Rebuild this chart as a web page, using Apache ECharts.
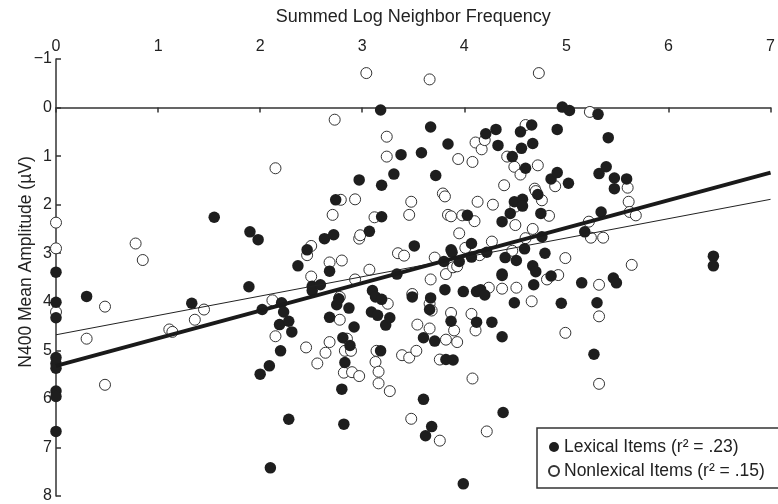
<!DOCTYPE html>
<html>
<head>
<meta charset="utf-8">
<script src="https://cdn.jsdelivr.net/npm/echarts@6/dist/echarts.min.js"></script>
<style>
  html, body { margin: 0; padding: 0; background: #fff; }
  #chart { width: 778px; height: 504px; }
</style>
</head>
<body>
<div id="chart"></div>
<script>
// filled circles: [summed log neighbor frequency, N400 amplitude]
var lexicalItems = [
  [0,3.39],[0,4.01],[0,4.33],[0,5.15],[0,5.27],[0,5.37],[0,5.84],[0,5.95],[0,6.67],
  [0.30,3.89],[1.33,4.03],[1.55,2.26],[1.89,3.69],[1.90,2.56],[1.98,2.72],[2.00,5.49],[2.02,4.16],[2.09,5.32],[2.10,7.42],
  [2.19,4.47],[2.20,5.01],[2.21,4.02],[2.23,4.21],[2.28,4.40],[2.28,6.42],[2.31,4.62],[2.37,3.26],[2.46,2.93],
  [2.51,3.68],[2.51,3.77],[2.59,3.65],[2.63,2.70],[2.68,3.37],[2.68,4.32],[2.72,2.62],[2.74,1.90],[2.75,4.06],[2.77,3.94],
  [2.80,5.80],[2.81,4.74],[2.82,6.52],[2.83,5.25],[2.87,4.13],[2.88,4.90],[2.92,4.52],[2.97,1.49],
  [3.07,2.55],[3.09,4.21],[3.10,3.77],[3.13,3.90],[3.15,4.28],[3.18,0.05],[3.18,5.01],[3.19,1.60],[3.19,2.25],[3.19,3.95],
  [3.23,4.48],[3.27,4.33],[3.31,1.37],[3.34,3.43],[3.38,0.97],[3.49,3.90],[3.51,2.85],[3.58,0.93],[3.60,4.74],[3.60,6.01],
  [3.62,6.76],[3.66,4.16],[3.67,0.40],[3.67,3.92],[3.68,6.57],[3.71,4.81],[3.72,1.40],[3.80,3.17],[3.81,3.75],[3.82,5.19],
  [3.84,0.75],[3.87,2.93],[3.88,2.98],[3.87,4.40],[3.89,5.20],[3.95,3.17],[3.99,3.79],[3.99,7.75],[4.03,2.22],[4.07,2.80],
  [4.07,3.08],[4.12,3.79],[4.16,3.75],[4.12,4.42],[4.20,3.86],[4.21,0.54],[4.22,2.98],[4.27,4.42],[4.31,0.45],[4.33,0.78],[4.37,2.35],
  [4.37,3.43],[4.37,3.46],[4.37,4.72],[4.38,6.28],[4.40,3.09],[4.45,2.18],[4.47,1.01],[4.49,1.94],[4.49,4.02],[4.51,3.15],
  [4.55,0.50],[4.56,0.84],[4.57,1.89],[4.57,2.03],[4.59,2.91],[4.60,1.25],[4.66,0.36],[4.67,0.74],[4.67,3.26],[4.68,3.65],
  [4.70,3.38],[4.72,1.79],[4.75,2.18],[4.76,2.66],[4.79,3.00],[4.85,1.47],[4.85,3.47],[4.91,0.45],[4.91,1.34],[4.95,4.03],
  [4.96,-0.01],[5.02,1.56],[5.03,0.06],[5.15,3.61],[5.18,2.56],[5.27,5.08],[5.30,4.02],[5.31,0.14],[5.32,1.36],[5.34,2.15],
  [5.39,1.22],[5.41,0.62],[5.46,3.51],[5.47,1.45],[5.47,1.67],[5.49,3.61],[5.59,1.47],[6.44,3.06],[6.44,3.26]
];

// open circles
var nonlexicalItems = [
  [0,2.37],[0,2.90],[0,4.21],[0.30,4.76],[0.48,4.10],[0.48,5.71],[0.78,2.80],[0.85,3.14],[1.11,4.57],[1.14,4.62],[1.36,4.37],[1.45,4.16],
  [2.12,3.97],[2.15,1.25],[2.15,4.71],[2.45,4.94],[2.46,3.04],[2.50,2.85],[2.50,3.48],[2.56,5.27],[2.64,5.05],[2.68,3.19],[2.68,4.83],
  [2.71,2.21],[2.73,0.25],[2.78,3.90],[2.78,4.37],[2.79,1.90],[2.80,3.15],[2.82,5.46],[2.83,5.01],[2.85,4.76],[2.89,5.01],[2.90,5.45],
  [2.93,1.89],[2.93,3.54],[2.97,2.70],[2.97,5.53],[2.98,2.63],[3.04,-0.71],[3.07,3.34],[3.12,2.26],[3.13,5.24],[3.14,5.01],[3.16,5.44],
  [3.16,5.68],[3.24,0.60],[3.24,1.01],[3.25,4.04],[3.27,5.84],[3.35,3.00],[3.39,5.10],[3.41,3.05],[3.46,2.21],[3.46,5.15],[3.48,1.94],
  [3.48,6.41],[3.49,3.84],[3.53,5.01],[3.54,4.47],[3.66,-0.58],[3.66,4.04],[3.66,4.55],[3.67,3.54],[3.68,4.18],[3.71,3.09],[3.76,5.19],
  [3.76,6.86],[3.79,1.77],[3.81,1.83],[3.82,3.43],[3.82,4.78],[3.84,2.21],[3.87,2.24],[3.87,4.23],[3.89,3.29],[3.90,4.59],[3.93,4.83],
  [3.93,3.27],[3.94,1.06],[3.95,2.59],[3.98,2.22],[4.01,2.89],[4.07,4.25],[4.08,1.12],[4.08,5.58],[4.10,2.34],[4.11,0.72],[4.11,4.59],
  [4.13,1.94],[4.15,3.04],[4.17,0.86],[4.20,0.67],[4.22,6.67],[4.24,3.71],[4.27,2.76],[4.28,2.00],[4.37,3.73],[4.39,1.60],[4.42,1.01],
  [4.47,2.95],[4.49,1.22],[4.50,2.04],[4.50,2.42],[4.51,3.71],[4.55,1.38],[4.60,0.36],[4.60,2.69],[4.66,3.99],[4.67,2.50],[4.69,1.67],
  [4.70,1.72],[4.72,1.19],[4.73,-0.71],[4.76,1.91],[4.81,3.54],[4.83,2.23],[4.89,1.62],[4.92,3.45],[4.99,3.10],[4.99,4.64],[5.22,2.35],
  [5.23,0.09],[5.24,2.68],[5.32,3.65],[5.32,4.30],[5.32,5.69],[5.36,2.68],[5.60,1.65],[5.61,1.94],[5.62,2.15],[5.64,3.24],[5.68,2.22]
];

// regression lines, read at x = 0 and x = 7
var lexicalFit = [[0, 5.32], [7, 1.34]];
var nonlexicalFit = [[0, 4.68], [7, 1.89]];

var legendNames = ['Lexical Items (r\u00b2 = .23)', 'Nonlexical Items (r\u00b2 = .15)'];

var chart = echarts.init(document.getElementById('chart'));
var font = 'Liberation Sans, Arial, Helvetica, sans-serif';
var ink = '#222';

var option = {
  animation: false,
  backgroundColor: '#fff',
  textStyle: { fontFamily: font },
  grid: { left: 56, right: 1, top: 59, bottom: 6 },
  legend: {
    data: legendNames,
    orient: 'vertical',
    left: 537,
    top: 428,
    padding: [10, 40, 8, 11],
    itemGap: 6,
    itemWidth: 10,
    itemHeight: 10,
    icon: 'circle',
    borderColor: '#333',
    borderWidth: 1.5,
    backgroundColor: '#fff',
    textStyle: { fontSize: 17.5, color: ink, fontFamily: font }
  },
  xAxis: {
    type: 'value',
    position: 'top',
    min: 0,
    max: 7,
    interval: 1,
    name: 'Summed Log Neighbor Frequency',
    nameLocation: 'middle',
    nameGap: 33,
    nameTextStyle: { fontSize: 18, color: ink, fontFamily: font },
    axisLine: { lineStyle: { color: '#333', width: 1.5 } },
    axisTick: { inside: true, length: 5, lineStyle: { color: '#333', width: 1.5 } },
    axisLabel: { fontSize: 16, color: ink, margin: 4, fontFamily: font },
    splitLine: { show: false }
  },
  yAxis: {
    type: 'value',
    inverse: true,
    min: -1,
    max: 8,
    interval: 1,
    axisLine: { show: true, lineStyle: { color: '#333', width: 1.5 } },
    axisTick: { show: true, inside: true, length: 5, lineStyle: { color: '#333', width: 1.5 } },
    axisLabel: {
      fontSize: 16, color: ink, margin: 4, fontFamily: font,
      formatter: function(v){ return String(v).replace('-', '\u2212'); }
    },
    splitLine: { show: false }
  },
  graphic: [{
    type: 'text',
    x: 26,
    y: 262,
    rotation: Math.PI / 2,
    style: {
      text: 'N400 Mean Amplitude (\u00b5V)',
      font: '17.5px ' + font,
      fill: ink,
      align: 'center',
      verticalAlign: 'middle'
    }
  }],
  series: [
    {
      name: legendNames[1],
      type: 'scatter',
      symbol: 'circle',
      symbolSize: 11,
      data: nonlexicalItems,
      itemStyle: { color: '#fff', borderColor: '#333', borderWidth: 1, opacity: 1 },
      z: 2
    },
    {
      name: legendNames[0],
      type: 'scatter',
      symbol: 'circle',
      symbolSize: 11.5,
      data: lexicalItems,
      itemStyle: { color: '#1e1e1e', opacity: 1 },
      z: 3
    },
    {
      type: 'line',
      data: nonlexicalFit,
      symbol: 'none',
      lineStyle: { color: '#222', width: 1 },
      z: 4
    },
    {
      type: 'line',
      data: lexicalFit,
      symbol: 'none',
      lineStyle: { color: '#1a1a1a', width: 4 },
      z: 5
    }
  ]
};
chart.setOption(option);
</script>
</body>
</html>
